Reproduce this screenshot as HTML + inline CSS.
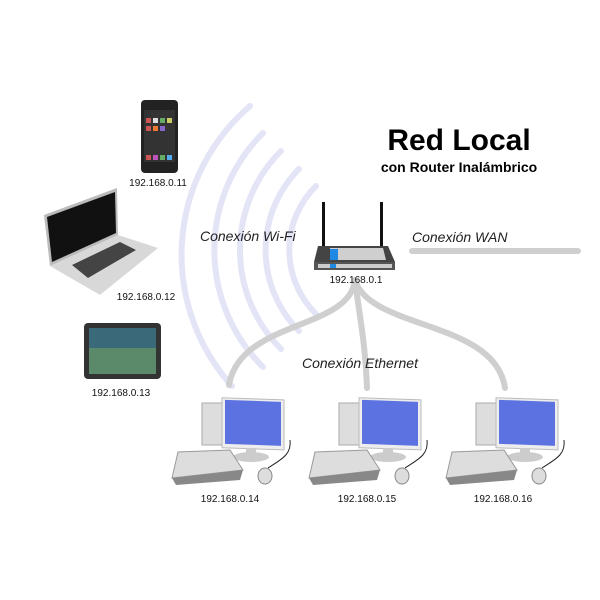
<!DOCTYPE html>
<html><head><style>body{margin:0;background:#fff}svg{display:block}text{font-family:"Liberation Sans",sans-serif}</style></head><body>
<svg width="600" height="600" viewBox="0 0 600 600">
<g fill="none" stroke="#e4e4f7" stroke-width="6" stroke-linecap="round">
<path d="M 316 186 A 90 90 0 0 0 316 314"/>
<path d="M 299 169 A 115 115 0 0 0 299 331"/>
<path d="M 281 151 A 140 140 0 0 0 281 349"/>
<path d="M 263 133 A 165 165 0 0 0 263 367"/>
<path d="M 250 106 A 196 196 0 0 0 232 386"/>
</g>
<g fill="none" stroke="#cfcfcf" stroke-width="6" stroke-linecap="round">
<path d="M355 280 C 350 330 240 320 229 385"/>
<path d="M355 280 C 360 320 365 340 367 388"/>
<path d="M355 280 C 370 330 495 320 505 388"/>
<path d="M412 251 L578 251"/>
</g>
<text x="459" y="150" font-size="30" font-weight="bold" text-anchor="middle" fill="#000">Red Local</text>
<text x="459" y="172" font-size="14" font-weight="bold" text-anchor="middle" fill="#000">con Router Inalámbrico</text>
<g font-style="italic" font-size="14" fill="#222">
<text x="200" y="241">Conexión Wi-Fi</text>
<text x="412" y="242">Conexión WAN</text>
<text x="302" y="368">Conexión Ethernet</text>
</g>
<!-- router -->
<rect x="322" y="202" width="3" height="46" fill="#111"/>
<rect x="380" y="202" width="3" height="46" fill="#111"/>
<path d="M318 246 L388 246 L395 262 L314 262 Z" fill="#444"/>
<path d="M330 248 L383 248 L386 260 L330 260 Z" fill="#cfcfcf"/>
<rect x="330" y="249" width="8" height="11" fill="#1e88e5"/>
<rect x="314" y="262" width="81" height="8" fill="#555"/>
<rect x="318" y="264" width="74" height="4" fill="#ccc"/>
<rect x="330" y="264" width="6" height="4" fill="#1e88e5"/>
<g font-size="10" fill="#111" text-anchor="middle">
<text x="356" y="283">192.168.0.1</text>
<text x="158" y="186">192.168.0.11</text>
<text x="146" y="300">192.168.0.12</text>
<text x="121" y="396">192.168.0.13</text>
<text x="230" y="502">192.168.0.14</text>
<text x="367" y="502">192.168.0.15</text>
<text x="503" y="502">192.168.0.16</text>
</g>
<!-- phone -->
<rect x="141" y="100" width="37" height="73" rx="4" fill="#222"/>
<rect x="144" y="110" width="31" height="52" fill="#333"/>
<g fill="#c55"><rect x="146" y="118" width="5" height="5"/><rect x="153" y="118" width="5" height="5" fill="#ddd"/><rect x="160" y="118" width="5" height="5" fill="#6a6"/><rect x="167" y="118" width="5" height="5" fill="#cc6"/><rect x="146" y="126" width="5" height="5"/><rect x="153" y="126" width="5" height="5" fill="#e73"/><rect x="160" y="126" width="5" height="5" fill="#86c"/><rect x="146" y="155" width="5" height="5"/><rect x="153" y="155" width="5" height="5" fill="#b5b"/><rect x="160" y="155" width="5" height="5" fill="#6a6"/><rect x="167" y="155" width="5" height="5" fill="#5ae"/></g>
<!-- laptop -->
<path d="M44 215 L117 188 L118 235 L50 266 Z" fill="#bbb"/>
<path d="M47 217 L115 192 L116 233 L52 262 Z" fill="#111"/>
<path d="M50 266 L118 235 L158 248 L100 295 Z" fill="#d8d8d8"/>
<path d="M72 265 L120 242 L136 250 L88 278 Z" fill="#444"/>
<!-- tablet -->
<rect x="84" y="323" width="77" height="56" rx="4" fill="#333"/>
<rect x="89" y="328" width="67" height="46" fill="#5a8a6a"/>
<rect x="89" y="328" width="67" height="20" fill="#3a6a7a"/>
<!-- PCs -->
<g id="pc">
<rect x="202" y="403" width="22" height="42" fill="#ddd" stroke="#aaa"/>
<rect x="222" y="390" width="62" height="50" fill="#eee" stroke="#bbb" transform="skewY(2)"/>
<rect x="225" y="392" width="56" height="44" fill="#5b72e0" transform="skewY(2)"/>
<rect x="246" y="448" width="10" height="8" fill="#ccc"/>
<ellipse cx="251" cy="457" rx="18" ry="5" fill="#ccc"/>
<path d="M178 452 L230 450 L243 470 L172 478 Z" fill="#ddd" stroke="#999"/>
<path d="M172 478 L243 470 L240 480 L176 485 Z" fill="#888"/>
<ellipse cx="265" cy="476" rx="7" ry="8" fill="#ddd" stroke="#888"/>
<path d="M268 468 C280 460 292 455 290 440" fill="none" stroke="#222" stroke-width="1"/>
</g>
<use href="#pc" x="137" y="0"/>
<use href="#pc" x="274" y="0"/>
</svg>
</body></html>
